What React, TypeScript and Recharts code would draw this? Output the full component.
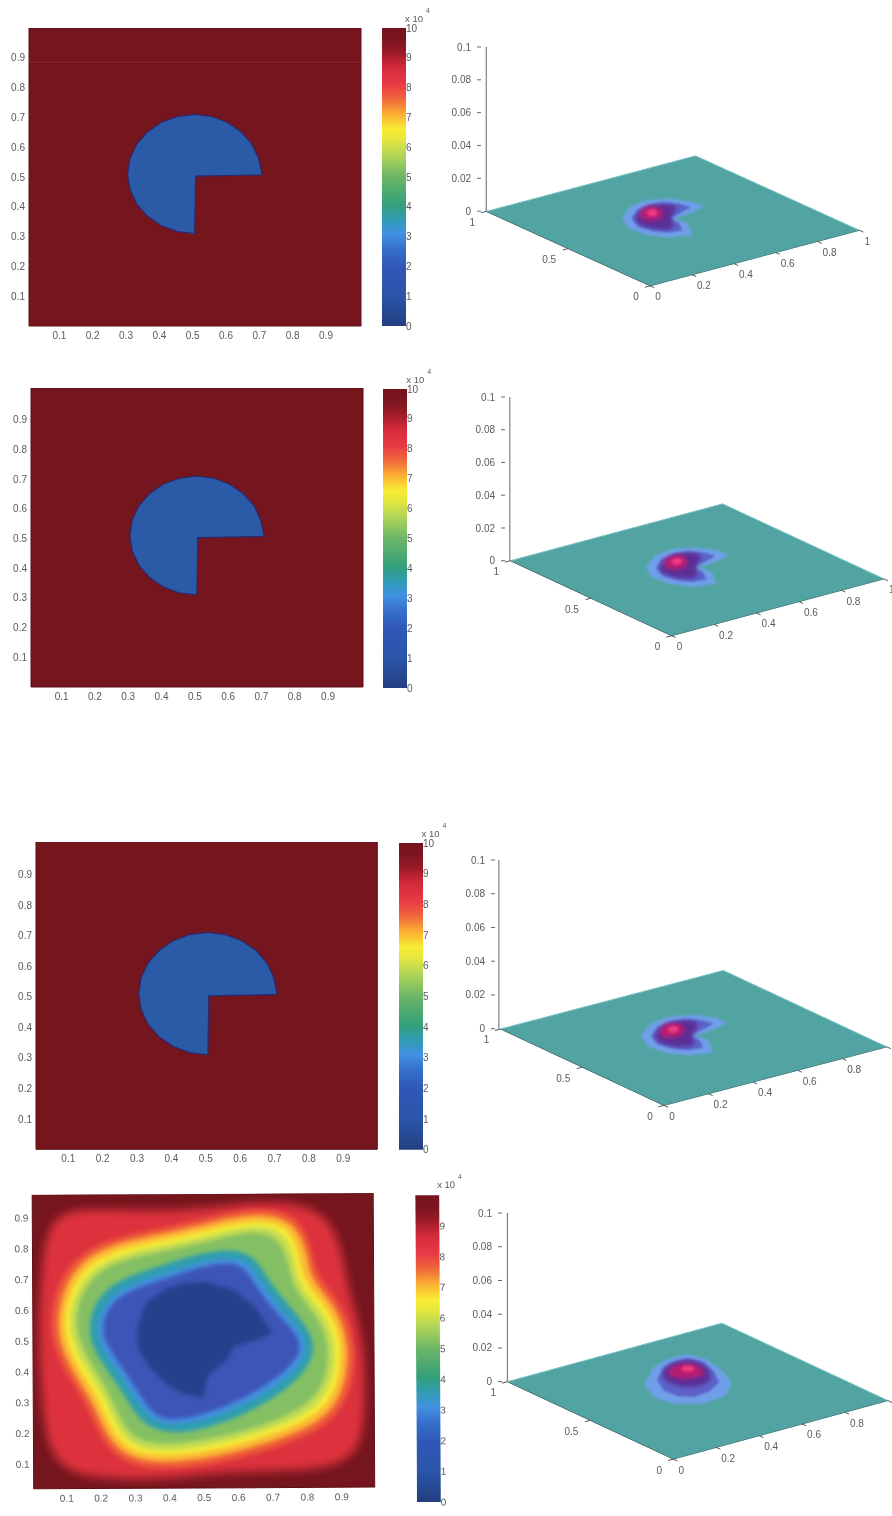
import { BarChart, Bar, ScatterChart, Scatter, XAxis, YAxis } from 'recharts';

type Pt = [number, number];

const FONT = '"Liberation Sans", Arial, sans-serif';
const TEXT = '#5a5a5a';

const unitTicks = [0.1, 0.2, 0.3, 0.4, 0.5, 0.6, 0.7, 0.8, 0.9];
const zTicks = [0, 0.02, 0.04, 0.06, 0.08, 0.1];
const barTicks = [0, 1, 2, 3, 4, 5, 6, 7, 8, 9, 10];
const barTicksShort = [0, 1, 2, 3, 4, 5, 6, 7, 8, 9];
const floorXLabels = [0, 0.2, 0.4, 0.6, 0.8, 1];
const floorXLabelsCut = [0, 0.2, 0.4, 0.6, 0.8];
const floorYLabels = [0, 0.5, 1];

// colour bar stops, value 0..10
const barStops: [number, string][] = [
  [0, '#243f80'], [1, '#2a55a8'], [2, '#3058b8'], [2.6, '#3570cc'], [3.1, '#4192e2'], [3.6, '#2f9cb0'],
  [4.1, '#35a078'], [5, '#6cb668'], [5.7, '#aed458'], [6.3, '#e8e83c'], [6.6, '#f8ec34'], [7.1, '#fbb034'],
  [7.6, '#f0683a'], [8.1, '#e93a46'], [8.7, '#d22a3a'], [9.2, '#9a1a28'], [9.6, '#7c1620'], [10, '#741420'],
];
const barValue = [{ name: 'bar', value: 10 }];

// wedge, the same outline is used in the three upper maps
const wedge: Pt[] = [
  [0.708, 0.507], [0.509, 0.503], [0.506, 0.31], [0.453, 0.317], [0.405, 0.337], [0.364, 0.369], [0.332, 0.41],
  [0.312, 0.458], [0.305, 0.51], [0.312, 0.562], [0.332, 0.61], [0.364, 0.651], [0.405, 0.683], [0.453, 0.703],
  [0.505, 0.71], [0.557, 0.703], [0.605, 0.683], [0.646, 0.651], [0.678, 0.61], [0.698, 0.562], [0.704, 0.53],
];

// level outlines of the lower map, outer to inner
const level9: Pt[] = [[0.053, 0.924], [0.199, 0.929], [0.374, 0.919], [0.51, 0.929], [0.685, 0.951], [0.83, 0.935], [0.898, 0.837], [0.918, 0.674], [0.966, 0.511], [0.971, 0.293], [0.956, 0.12], [0.83, 0.071], [0.588, 0.076], [0.393, 0.049], [0.199, 0.049], [0.053, 0.087], [0.029, 0.293], [0.019, 0.511], [0.029, 0.728]];
const level8: Pt[] = [[0.053, 0.587], [0.092, 0.739], [0.209, 0.831], [0.384, 0.864], [0.529, 0.902], [0.655, 0.933], [0.782, 0.908], [0.82, 0.783], [0.83, 0.707], [0.903, 0.62], [0.947, 0.478], [0.927, 0.315], [0.859, 0.212], [0.694, 0.141], [0.5, 0.087], [0.306, 0.076], [0.209, 0.152], [0.165, 0.283], [0.107, 0.38], [0.063, 0.478]];
const level7: Pt[] = [[0.073, 0.587], [0.112, 0.728], [0.218, 0.813], [0.388, 0.846], [0.534, 0.884], [0.655, 0.913], [0.767, 0.889], [0.806, 0.777], [0.811, 0.696], [0.887, 0.609], [0.927, 0.478], [0.908, 0.326], [0.845, 0.231], [0.689, 0.163], [0.495, 0.109], [0.311, 0.098], [0.223, 0.168], [0.182, 0.293], [0.123, 0.391], [0.083, 0.484]];
const level65: Pt[] = [[0.092, 0.587], [0.131, 0.717], [0.228, 0.793], [0.393, 0.826], [0.539, 0.864], [0.655, 0.891], [0.753, 0.87], [0.782, 0.772], [0.791, 0.685], [0.869, 0.598], [0.908, 0.478], [0.888, 0.337], [0.83, 0.25], [0.685, 0.185], [0.49, 0.13], [0.316, 0.12], [0.238, 0.185], [0.199, 0.304], [0.141, 0.402], [0.102, 0.489]];
const level6: Pt[] = [[0.107, 0.587], [0.146, 0.706], [0.236, 0.777], [0.398, 0.81], [0.544, 0.848], [0.655, 0.875], [0.738, 0.853], [0.767, 0.766], [0.777, 0.674], [0.854, 0.587], [0.89, 0.478], [0.874, 0.348], [0.816, 0.263], [0.68, 0.201], [0.488, 0.147], [0.32, 0.136], [0.252, 0.196], [0.214, 0.315], [0.155, 0.413], [0.117, 0.494]];
const level5: Pt[] = [[0.126, 0.587], [0.162, 0.696], [0.248, 0.761], [0.403, 0.793], [0.549, 0.831], [0.655, 0.857], [0.719, 0.831], [0.748, 0.761], [0.762, 0.663], [0.835, 0.576], [0.869, 0.478], [0.854, 0.359], [0.801, 0.283], [0.67, 0.217], [0.481, 0.168], [0.33, 0.158], [0.267, 0.212], [0.228, 0.326], [0.172, 0.424], [0.136, 0.505]];
const level4: Pt[] = [[0.165, 0.543], [0.185, 0.636], [0.262, 0.704], [0.384, 0.745], [0.505, 0.788], [0.617, 0.796], [0.667, 0.745], [0.704, 0.668], [0.782, 0.571], [0.83, 0.489], [0.803, 0.397], [0.699, 0.302], [0.549, 0.223], [0.401, 0.19], [0.316, 0.23], [0.277, 0.31], [0.223, 0.397], [0.178, 0.473]];
const level3: Pt[] = [[0.189, 0.543], [0.209, 0.62], [0.277, 0.679], [0.393, 0.717], [0.51, 0.761], [0.607, 0.77], [0.646, 0.728], [0.685, 0.652], [0.762, 0.554], [0.806, 0.489], [0.782, 0.413], [0.685, 0.326], [0.539, 0.25], [0.403, 0.217], [0.335, 0.25], [0.296, 0.326], [0.243, 0.413], [0.199, 0.489]];
const level2: Pt[] = [[0.204, 0.543], [0.223, 0.614], [0.286, 0.665], [0.398, 0.703], [0.512, 0.747], [0.599, 0.753], [0.634, 0.715], [0.673, 0.639], [0.751, 0.543], [0.789, 0.487], [0.767, 0.424], [0.675, 0.342], [0.532, 0.266], [0.405, 0.234], [0.347, 0.263], [0.308, 0.337], [0.255, 0.424], [0.214, 0.495]];
const level1: Pt[] = [[0.306, 0.511], [0.312, 0.56], [0.335, 0.625], [0.393, 0.668], [0.45, 0.685], [0.5, 0.69], [0.588, 0.663], [0.655, 0.603], [0.699, 0.522], [0.655, 0.5], [0.588, 0.478], [0.568, 0.435], [0.51, 0.38], [0.5, 0.315], [0.442, 0.326], [0.39, 0.36], [0.345, 0.41], [0.315, 0.46]];

const lowerLevels: { pts: Pt[]; fill: string; blur: string; curve: string }[] = [
  { pts: level9, fill: '#dd303e', blur: 'soft4', curve: 'basisClosed' },
  { pts: level8, fill: '#ee5a38', blur: 'soft2', curve: 'basisClosed' },
  { pts: level7, fill: '#fbb834', blur: 'soft2', curve: 'basisClosed' },
  { pts: level65, fill: '#f6ec36', blur: 'soft2', curve: 'basisClosed' },
  { pts: level6, fill: '#c4dc52', blur: 'soft2', curve: 'basisClosed' },
  { pts: level5, fill: '#84c064', blur: 'soft2', curve: 'basisClosed' },
  { pts: level4, fill: '#2f9db0', blur: 'soft2', curve: 'basisClosed' },
  { pts: level3, fill: '#4590e0', blur: 'soft2', curve: 'basisClosed' },
  { pts: level2, fill: '#3c55b6', blur: 'soft2', curve: 'basisClosed' },
  { pts: level1, fill: '#25408c', blur: 'soft2', curve: 'linearClosed' },
];

// surface colour patches on the floor plane, upper plots
const wedgePale: Pt[] = [[0.688, 0.549], [0.686, 0.617], [0.638, 0.697], [0.558, 0.734], [0.465, 0.716], [0.363, 0.636], [0.317, 0.537], [0.327, 0.44], [0.38, 0.366], [0.466, 0.336], [0.528, 0.446], [0.522, 0.517], [0.599, 0.526]];
const wedgeMid: Pt[] = [[0.645, 0.575], [0.635, 0.625], [0.59, 0.675], [0.54, 0.69], [0.46, 0.67], [0.39, 0.61], [0.36, 0.53], [0.375, 0.46], [0.41, 0.41], [0.465, 0.395], [0.505, 0.47], [0.5, 0.53], [0.575, 0.55]];
const wedgeDark: Pt[] = [[0.638, 0.617], [0.562, 0.7], [0.391, 0.614], [0.366, 0.527], [0.399, 0.449], [0.465, 0.426], [0.502, 0.532]];
const wedgeRed: Pt[] = [[0.506, 0.689], [0.563, 0.659], [0.515, 0.562], [0.446, 0.534], [0.408, 0.575], [0.445, 0.641]];
const wedgePink: Pt[] = [[0.501, 0.652], [0.532, 0.643], [0.501, 0.586], [0.458, 0.578], [0.469, 0.623]];

// same patches for the smoothed bottom plot
const domePale: Pt[] = [[0.388, 0.677], [0.523, 0.793], [0.613, 0.827], [0.701, 0.825], [0.727, 0.741], [0.707, 0.628], [0.657, 0.499], [0.553, 0.399], [0.434, 0.386], [0.349, 0.45], [0.335, 0.55]];
const domeMid: Pt[] = [[0.45, 0.68], [0.55, 0.77], [0.625, 0.795], [0.68, 0.79], [0.7, 0.72], [0.67, 0.62], [0.62, 0.525], [0.53, 0.47], [0.45, 0.46], [0.41, 0.5], [0.405, 0.58]];
const domeDark: Pt[] = [[0.481, 0.709], [0.582, 0.787], [0.67, 0.784], [0.696, 0.701], [0.612, 0.546], [0.517, 0.528], [0.461, 0.596]];
const domeRed: Pt[] = [[0.527, 0.739], [0.631, 0.775], [0.676, 0.716], [0.636, 0.618], [0.562, 0.609], [0.505, 0.653]];
const domePink: Pt[] = [[0.613, 0.751], [0.655, 0.718], [0.612, 0.662], [0.574, 0.69]];

const floorCorners: Pt[] = [[0, 0], [1, 0], [1, 1], [0, 1]];

const Nothing = () => <g />;
const toXY = (pts: Pt[]) => pts.map(([x, y]) => ({ x, y }));

const tickStyle = { fontSize: 10, fill: TEXT, fontFamily: FONT };

function SoftDefs() {
  return (
    <defs>
      <filter id="soft1" x="-20%" y="-20%" width="140%" height="140%"><feGaussianBlur stdDeviation="1.2" /></filter>
      <filter id="soft2" x="-20%" y="-20%" width="140%" height="140%"><feGaussianBlur stdDeviation="2" /></filter>
      <filter id="soft4" x="-20%" y="-20%" width="140%" height="140%"><feGaussianBlur stdDeviation="5" /></filter>
    </defs>
  );
}

function poly(key: string, data: { x: number; y: number }[], line: any, curve = 'linearClosed') {
  return <Scatter key={key} data={data} line={line} lineJointType={curve as any} shape={Nothing} isAnimationActive={false} />;
}

interface MapProps {
  left: number;
  top: number;
  width: number;
  height: number;
  xDomain: [number, number];
  yDomain: [number, number];
  hairline?: number;
  lower?: boolean;
  tilt?: number;
}

function MapPanel({ left, top, width, height, xDomain, yDomain, hairline, lower, tilt = 0 }: MapProps) {
  const yw = 29;
  const [x0, x1] = xDomain;
  const [y0, y1] = yDomain;
  return (
    <div style={{ position: 'absolute', left: left - yw, top, transform: `rotate(${tilt}deg)` }}>
      <ScatterChart width={yw + width + 6} height={height + 20} margin={{ top: 0, right: 6, bottom: 0, left: 0 }}>
        <SoftDefs />
        <XAxis type="number" dataKey="x" domain={xDomain} ticks={unitTicks} interval={0} height={20} axisLine={false} tickLine={false}
          tickSize={0} tickMargin={6} tick={tickStyle} tickFormatter={(v: number) => v.toFixed(1)} />
        <YAxis type="number" dataKey="y" domain={yDomain} ticks={unitTicks} interval={0} width={yw} axisLine={false} tickLine={false}
          tickSize={0} tickMargin={4} tick={tickStyle} tickFormatter={(v: number) => v.toFixed(1)} />
        {poly('frame', toXY([[x0, y0], [x1, y0], [x1, y1], [x0, y1]]), { fill: '#75151d', stroke: '#5e1016', strokeWidth: 1 })}
        {hairline !== undefined && poly('hair', toXY([[x0, hairline], [x1, hairline]]), { stroke: '#8a2a26', strokeWidth: 1, fill: 'none' }, 'linear')}
        {!lower && poly('wedge', toXY(wedge), { fill: '#2b5aa6', stroke: '#2a2a70', strokeWidth: 1.2 })}
        {lower && lowerLevels.map((l, i) => poly(`lvl${i}`, toXY(l.pts), { fill: l.fill, stroke: 'none', filter: `url(#${l.blur})` }, l.curve))}
      </ScatterChart>
    </div>
  );
}

interface BarProps {
  left: number;
  top: number;
  width: number;
  height: number;
  max?: number;
  ticks?: number[];
  noteDx: number;
  id: string;
  tilt?: number;
}

function ColourBar({ left, top, width, height, max = 10, ticks = barTicks, noteDx, id, tilt = 0 }: BarProps) {
  return (
    <div style={{ position: 'absolute', left, top: top - 8, transform: `rotate(${tilt}deg)` }}>
      <BarChart width={width + 24} height={height + 16} data={barValue} margin={{ top: 8, right: 0, bottom: 8, left: 0 }} barCategoryGap={0}>
        <defs>
          <linearGradient id={id} x1="0" y1="1" x2="0" y2="0">
            {barStops.map(([v, c]) => <stop key={v} offset={`${v * 10}%`} stopColor={c} />)}
          </linearGradient>
        </defs>
        <XAxis dataKey="name" hide />
        <YAxis orientation="right" type="number" domain={[0, max]} ticks={ticks} interval={0} width={24} axisLine={false} tickLine={false}
          tickSize={0} tickMargin={0} tick={tickStyle} />
        <Bar dataKey="value" fill={`url(#${id})`} isAnimationActive={false} />
      </BarChart>
      <div style={{ position: 'absolute', left: noteDx, top: -6, lineHeight: '9px', fontFamily: FONT, fontSize: 9.5, color: TEXT, whiteSpace: 'nowrap' }}>x 10</div>
      <div style={{ position: 'absolute', left: noteDx + 21, top: -13, lineHeight: '8px', fontFamily: FONT, fontSize: 7, color: TEXT }}>4</div>
    </div>
  );
}

interface SurfaceProps {
  axisX: number;
  zTop: number;
  z0: number;
  front: Pt;
  right: Pt;
  back: Pt; // vector front -> left corner
  patches: Pt[][];
  xLabels?: number[];
}

const patchFills = ['#6f9fea', '#5c62c8', '#5b2f96', '#b81f72', '#ea3a80'];
const patchBlurs = ['soft1', 'soft1', 'soft2', 'soft2', 'soft1'];

function SurfacePanel({ axisX, zTop, z0, front, right, back, patches, xLabels = floorXLabels }: SurfaceProps) {
  const yw = 34;
  const plotW = 892 - axisX;
  const perZ = (z0 - zTop) / 0.1;
  const zMin = -(front[1] - z0) / perZ;
  const project = ([x, y]: Pt) => {
    const px = front[0] + x * right[0] + y * back[0];
    const py = front[1] + x * right[1] + y * back[1];
    return { x: px - axisX, y: (z0 - py) / perZ };
  };
  const line = (pts: Pt[]) => pts.map(project);
  const label = (p: Pt, text: string, dx: number, dy: number) => ({ ...project(p), text, dx, dy });
  const xText = xLabels.map((v) => label([v, 0], String(v), v === 0 || v === 1 ? 8 : 12, 11));
  const yText = floorYLabels.map((v) => label([0, v], String(v), v === 0.5 ? -19 : -14, 11));
  return (
    <div style={{ position: 'absolute', left: axisX - yw, top: zTop - 6 }}>
      <ScatterChart width={yw + plotW} height={front[1] - zTop + 6 + 26} margin={{ top: 6, right: 0, bottom: 26, left: 0 }}>
        <SoftDefs />
        <XAxis type="number" dataKey="x" domain={[0, plotW]} hide />
        <YAxis type="number" dataKey="y" domain={[zMin, 0.1]} ticks={zTicks} interval={0} width={yw} axisLine={false}
          tickLine={{ stroke: '#666' }} tickSize={4} tickMargin={6} tick={tickStyle}
          tickFormatter={(v: number) => (v === 0 ? '0' : v === 0.1 ? '0.1' : v.toFixed(2))} />
        {poly('zaxis', [{ x: 0, y: 0 }, { x: 0, y: 0.1 }], { stroke: '#666', strokeWidth: 1, fill: 'none' }, 'linear')}
        {poly('floor', line(floorCorners), { fill: '#52a4a2', stroke: '#7cc6c8', strokeWidth: 1 })}
        {patches.map((p, i) => poly(`patch${i}`, line(p), { fill: patchFills[i], stroke: 'none', filter: `url(#${patchBlurs[i]})` }, i < 2 ? 'linearClosed' : 'basisClosed'))}
        {poly('edgeY', line([[0, 1], [0, 0]]), { stroke: '#4a6f70', strokeWidth: 1, fill: 'none' }, 'linear')}
        {poly('edgeX', line([[0, 0], [1, 0]]), { stroke: '#4a7f80', strokeWidth: 1, fill: 'none' }, 'linear')}
        {floorXLabels.map((v) => poly(`xt${v}`, line([[v, 0], [v, -0.025]]), { stroke: '#555', strokeWidth: 1, fill: 'none' }, 'linear'))}
        {floorYLabels.map((v) => poly(`yt${v}`, line([[0, v], [-0.025, v]]), { stroke: '#555', strokeWidth: 1, fill: 'none' }, 'linear'))}
        <Scatter data={[...xText, ...yText]} isAnimationActive={false}
          shape={(p: any) => (
            <text x={p.cx + p.payload.dx} y={p.cy + p.payload.dy + 3.5} textAnchor="middle" fontSize={10} fontFamily={FONT} fill={TEXT}>
              {p.payload.text}
            </text>
          )} />
      </ScatterChart>
    </div>
  );
}

const wedgePatches = [wedgePale, wedgeMid, wedgeDark, wedgeRed, wedgePink];
const domePatches = [domePale, domeMid, domeDark, domeRed, domePink];

export default function App() {
  return (
    <div style={{ position: 'absolute', left: 0, top: 0, width: 892, height: 1516, background: '#fff', overflow: 'hidden', filter: 'blur(0.6px)' }}>
      <MapPanel left={29} top={27.5} width={332} height={298} xDomain={[0.009, 1.005]} yDomain={[0, 1]} hairline={0.885} />
      <ColourBar left={382} top={28} width={24} height={298} noteDx={23} id="bar1" />
      <SurfacePanel axisX={481} zTop={47.3} z0={212.7} front={[647, 288]} right={[212, -56]} back={[-166, -75]} patches={wedgePatches} />

      <MapPanel left={31} top={388.3} width={332} height={299} xDomain={[0.008, 1.005]} yDomain={[0, 1.007]} />
      <ColourBar left={383.3} top={389.3} width={24} height={299} noteDx={23} id="bar2" />
      <SurfacePanel axisX={504.5} zTop={396.7} z0={561.7} front={[668.3, 637.3]} right={[215, -57.3]} back={[-163.3, -75.6]} patches={wedgePatches} />

      <MapPanel left={36} top={842} width={341.3} height={307.3} xDomain={[0.006, 0.999]} yDomain={[0.001, 1.006]} />
      <ColourBar left={398.5} top={843.3} width={24} height={306.7} noteDx={23} id="bar3" />
      <SurfacePanel axisX={495} zTop={860} z0={1030} front={[661.7, 1107.3]} right={[225, -59]} back={[-165, -77]} patches={wedgePatches} xLabels={floorXLabelsCut} />

      <MapPanel left={33} top={1194} width={341} height={294} xDomain={[0.004, 0.996]} yDomain={[0.02, 0.975]} lower tilt={-0.3} />
      <ColourBar left={415.5} top={1194} width={24} height={308} max={10.04} ticks={barTicksShort} noteDx={22} id="bar4" tilt={-0.3} />
      <SurfacePanel axisX={502} zTop={1212.7} z0={1382.7} front={[673, 1460.7]} right={[221, -59]} back={[-171, -78]} patches={domePatches} xLabels={floorXLabelsCut} />
    </div>
  );
}
